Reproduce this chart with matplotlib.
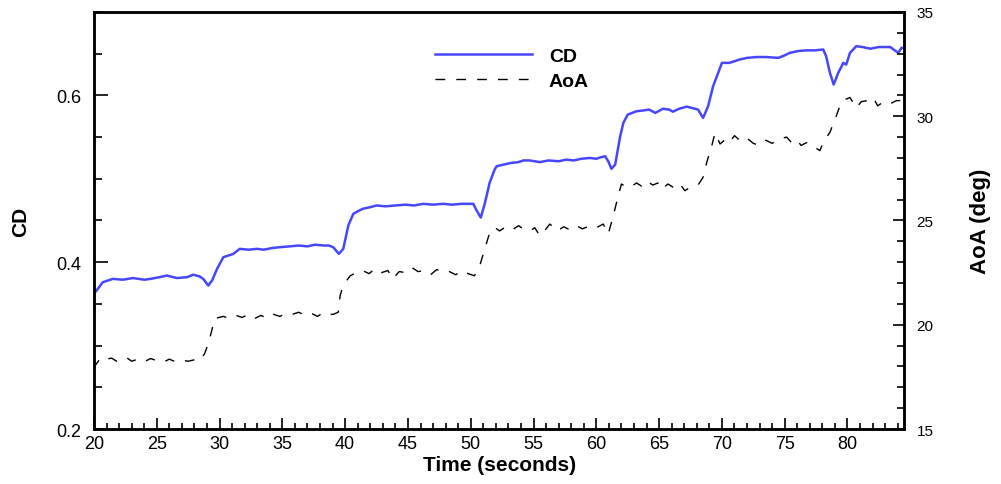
import matplotlib
matplotlib.use('Agg')
import matplotlib.pyplot as plt
from matplotlib.ticker import MultipleLocator

plt.rcParams['font.family'] = ['Liberation Sans', 'DejaVu Sans']

# CD time history (left axis)
cd_time = [20.0, 20.1, 20.7, 21.5, 22.3, 23.1, 24.0, 24.5, 25.2, 25.8, 26.6, 27.4, 27.9, 28.4, 28.7,
           29.1, 29.4, 29.8, 30.3, 30.7, 31.1, 31.6, 32.3, 33.0, 33.5, 34.2, 34.8, 35.6, 36.3, 37.0,
           37.6, 38.3, 38.7, 39.05, 39.5, 39.85, 40.25, 40.65, 41.0, 41.4, 42.0, 42.5, 43.2, 44.0,
           44.8, 45.5, 46.2, 47.0, 47.8, 48.5, 49.3, 50.0, 50.2, 50.47, 50.8, 51.13, 51.5, 51.9,
           52.06, 52.6, 53.2, 53.8, 54.2, 54.7, 55.5, 56.2, 57.0, 57.6, 58.2, 58.8, 59.5, 60.0,
           60.4, 60.7, 60.95, 61.2, 61.5, 61.9, 62.15, 62.5, 63.2, 63.8, 64.2, 64.7, 65.3, 65.8,
           66.1, 66.6, 67.2, 67.6, 68.1, 68.5, 68.9, 69.3, 69.7, 70.0, 70.6, 71.0, 71.4, 72.0,
           72.76, 73.5, 74.5, 75.0, 75.4, 76.0, 76.7, 77.4, 78.07, 78.3, 78.6, 78.9, 79.26, 79.5,
           79.66, 79.9, 80.2, 80.7, 81.2, 81.8, 82.5, 83.4, 84.04, 84.3, 84.5]
cd_vals = [0.362, 0.364, 0.376, 0.380, 0.379, 0.381, 0.379, 0.380, 0.382, 0.384, 0.381, 0.382, 0.385,
           0.383, 0.380, 0.372, 0.378, 0.392, 0.406, 0.408, 0.410, 0.416, 0.415, 0.416, 0.415, 0.417,
           0.418, 0.419, 0.420, 0.419, 0.421, 0.420, 0.420, 0.418, 0.410, 0.416, 0.444, 0.458, 0.461,
           0.464, 0.466, 0.468, 0.467, 0.468, 0.469, 0.468, 0.470, 0.469, 0.470, 0.469, 0.470, 0.470,
           0.470, 0.462, 0.4535, 0.471, 0.495, 0.511, 0.515, 0.517, 0.519, 0.520, 0.522, 0.522, 0.520,
           0.522, 0.521, 0.523, 0.522, 0.524, 0.525, 0.524, 0.526, 0.527, 0.521, 0.512, 0.517, 0.551,
           0.567, 0.577, 0.581, 0.582, 0.583, 0.579, 0.584, 0.583, 0.5805, 0.584, 0.5865, 0.585, 0.583,
           0.573, 0.587, 0.611, 0.627, 0.639, 0.639, 0.641, 0.643, 0.645, 0.646, 0.646, 0.645, 0.648,
           0.651, 0.653, 0.654, 0.654, 0.655, 0.647, 0.627, 0.613, 0.627, 0.634, 0.639, 0.637, 0.651,
           0.659, 0.658, 0.656, 0.658, 0.658, 0.651, 0.657, 0.657]

# AoA time history (right axis)
aoa_time = [20.0, 20.1, 20.4, 20.7, 21.0, 21.4, 21.8, 22.3, 22.6, 23.0, 23.5, 24.0, 24.5, 25.0, 25.5,
            26.0, 26.5, 27.0, 27.5, 28.0, 28.4, 28.8, 29.1, 29.37, 29.6, 30.3, 30.8, 31.3, 31.8, 32.3,
            32.8, 33.3, 33.8, 34.3, 34.8, 35.3, 35.8, 36.3, 36.8, 37.3, 37.8, 38.3, 38.8, 39.05, 39.45,
            39.6, 39.85, 40.4, 40.9, 41.4, 41.9, 42.4, 42.9, 43.4, 43.8, 44.3, 44.8, 45.3, 45.8, 46.3,
            46.8, 47.3, 47.8, 48.3, 48.8, 49.3, 49.8, 50.3, 50.7, 51.1, 51.5, 51.9, 52.3, 52.8, 53.3,
            53.8, 54.2, 54.7, 55.1, 55.5, 56.0, 56.3, 56.9, 57.4, 57.9, 58.4, 58.9, 59.5, 60.0, 60.55,
            60.95, 61.35, 61.75, 62.0, 62.4, 62.7, 63.2, 63.6, 64.0, 64.5, 64.9, 65.2, 65.7, 66.1,
            66.6, 67.05, 67.5, 68.1, 68.5, 68.8, 69.2, 69.45, 69.85, 70.3, 70.6, 71.0, 71.5, 72.0,
            72.5, 73.0, 73.5, 74.0, 74.5, 75.15, 75.6, 76.0, 76.3, 76.8, 77.3, 77.8, 78.07, 78.6,
            79.1, 79.5, 79.8, 80.2, 80.7, 81.1, 81.6, 82.05, 82.4, 82.9, 83.4, 83.9, 84.3, 84.5]
aoa_vals = [17.9, 18.05, 18.3, 18.45, 18.35, 18.4, 18.25, 18.3, 18.42, 18.25, 18.35, 18.22, 18.38,
            18.28, 18.2, 18.35, 18.22, 18.3, 18.25, 18.32, 18.28, 18.6, 19.1, 19.7, 20.3, 20.4, 20.3,
            20.45, 20.35, 20.5, 20.3, 20.45, 20.3, 20.5, 20.4, 20.55, 20.5, 20.6, 20.45, 20.55, 20.4,
            20.6, 20.5, 20.5, 20.6, 21.4, 21.9, 22.35, 22.5, 22.6, 22.45, 22.7, 22.5, 22.6, 22.2,
            22.55, 22.5, 22.75, 22.55, 22.6, 22.4, 22.65, 22.5, 22.55, 22.4, 22.6, 22.45, 22.35, 22.8,
            23.6, 24.4, 24.67, 24.5, 24.7, 24.55, 24.75, 24.6, 24.5, 24.65, 24.27, 24.6, 24.83, 24.5,
            24.7, 24.55, 24.75, 24.6, 24.75, 24.65, 24.83, 24.35, 25.23, 26.2, 26.75, 26.6, 26.6,
            26.8, 26.65, 26.9, 26.7, 26.8, 26.5, 26.75, 26.6, 26.8, 26.43, 26.6, 26.7, 27.07, 27.8,
            28.6, 29.2, 28.67, 28.9, 28.75, 29.07, 28.8, 28.95, 28.7, 28.6, 28.85, 28.7, 28.9, 29.0,
            28.7, 28.85, 28.6, 28.75, 28.55, 28.35, 28.75, 29.23, 30.0, 30.67, 30.8, 30.9, 30.4,
            30.7, 30.75, 30.9, 30.5, 30.7, 30.6, 30.75, 30.75, 30.7]

fig = plt.figure(figsize=(10.01, 4.85), dpi=100)
ax = fig.add_axes([0.0939, 0.1134, 0.8092, 0.8598])
ax2 = ax.twinx()

l1, = ax.plot(cd_time, cd_vals, color='#4646ff', lw=1.8, label='CD')
l2, = ax2.plot(aoa_time, aoa_vals, color='black', lw=1.0, linestyle=(0, (7, 8)), label='AoA')

ax.set_xlim(20, 84.5)
ax.set_ylim(0.2, 0.7)
ax2.set_ylim(15, 35)

ax.xaxis.set_major_locator(MultipleLocator(5))
ax.xaxis.set_minor_locator(MultipleLocator(1))
ax.yaxis.set_major_locator(MultipleLocator(0.2))
ax.yaxis.set_minor_locator(MultipleLocator(0.05))
ax2.yaxis.set_major_locator(MultipleLocator(5))
ax2.yaxis.set_minor_locator(MultipleLocator(1))
ax.yaxis.set_major_formatter(plt.FormatStrFormatter('%.1f'))

ax.tick_params(which='both', direction='in', top=False, right=False, width=1.2)
ax.tick_params(axis='y', which='major', length=10, labelsize=13, pad=9)
ax.tick_params(axis='y', which='minor', length=6)
ax.tick_params(axis='x', which='major', length=8, labelsize=13, pad=4)
ax.tick_params(axis='x', which='minor', length=4)
ax2.tick_params(which='both', direction='in', width=1.2)
ax2.tick_params(axis='y', which='major', length=8, labelsize=11, pad=9)
ax2.tick_params(axis='y', which='minor', length=5)

for a in (ax, ax2):
    for s in a.spines.values():
        s.set_linewidth(1.8)

ax.set_xlabel('Time (seconds)', fontsize=15, fontweight='bold', va='center')
ax.xaxis.set_label_coords(0.501, -0.086)
ax.set_ylabel('CD', fontsize=15, fontweight='bold', va='center')
ax.yaxis.set_label_coords(-0.091, 0.5)
ax2.set_ylabel('AoA (deg)', fontsize=16, fontweight='bold', va='center')
ax2.yaxis.set_label_coords(1.095, 0.5)

leg = ax.legend(handles=[l1, l2], loc='upper left', bbox_to_anchor=(0.421, 0.915),
                frameon=False, fontsize=14, handlelength=5, handletextpad=0.85,
                labelspacing=0.38, borderpad=0, borderaxespad=0)
for t in leg.get_texts():
    t.set_fontweight('bold')

fig.savefig('out.png', dpi=100)
